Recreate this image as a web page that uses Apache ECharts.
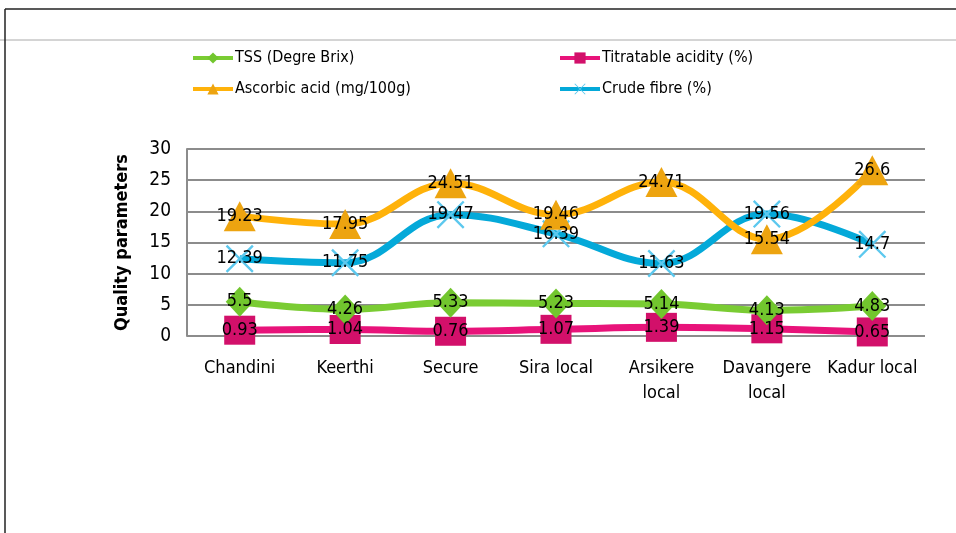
<!DOCTYPE html>
<html>
<head>
<meta charset="utf-8">
<script src="https://cdn.jsdelivr.net/npm/echarts@6/dist/echarts.min.js"></script>
<style>
  html, body { margin: 0; padding: 0; background: #fff; }
  #chart { width: 956px; height: 533px; }
</style>
</head>
<body>
<div id="chart"></div>
<script>
// categories (varieties)
const varieties = ["Chandini", "Keerthi", "Secure", "Sira local", "Arsikere\nlocal", "Davangere\nlocal", "Kadur local"];

// series values
const tss = [5.5, 4.26, 5.33, 5.23, 5.14, 4.13, 4.83];
const titratable = [0.93, 1.04, 0.76, 1.07, 1.39, 1.15, 0.65];
const ascorbic = [19.23, 17.95, 24.51, 19.46, 24.71, 15.54, 26.6];
const crude = [12.39, 11.75, 19.47, 16.39, 11.63, 19.56, 14.7];

const names = ["TSS (Degre Brix)", "Titratable acidity (%)", "Ascorbic acid (mg/100g)", "Crude fibre (%)"];

// thin "x" marker for crude fibre
const crossPath = "path://M0,0.6 L0.6,0 L10,9.4 L9.4,10 Z M9.4,0 L10,0.6 L0.6,10 L0,9.4 Z";
const txtFont = "'DejaVu Sans Condensed', 'DejaVu Sans'";

let myChart = echarts.init(document.getElementById("chart"));

function mkSeries(name, data, color, symbol, size, symColor) {
  return {
    name: name,
    type: "line",
    data: data,
    smooth: 0.4,
    symbol: symbol,
    symbolSize: size,
    lineStyle: { color: color, width: 7 },
    itemStyle: { color: symColor || color },
    label: {
      show: true,
      position: "inside",
      color: "#000",
      fontFamily: txtFont,
      fontSize: 18
    },
    z: 2
  };
}

// legend helper - one legend per item so they can sit in a 2x2 grid
function mkLegend(name, left, top) {
  return {
    data: [name],
    left: left,
    top: top,
    itemWidth: 40,
    itemHeight: 14,
    itemGap: 2,
    lineStyle: { width: 4 },
    textStyle: {
      fontFamily: "'Liberation Sans Narrow', 'DejaVu Sans Condensed'",
      fontSize: 16,
      color: "#000",
      padding: [0, 0, 0, -3]
    }
  };
}

let option = {
  animation: false,
  backgroundColor: "#fff",
  graphic: [
    { type: "line", shape: { x1: 0, y1: 40, x2: 956, y2: 40 }, style: { stroke: "#aaa", lineWidth: 1 } },
    { type: "line", shape: { x1: 5, y1: 9, x2: 956, y2: 9 }, style: { stroke: "#222", lineWidth: 1.5 } },
    { type: "line", shape: { x1: 5, y1: 9, x2: 5, y2: 533 }, style: { stroke: "#222", lineWidth: 1.5 } }
  ],
  legend: [
    mkLegend(names[0], 186, 45),
    mkLegend(names[1], 553, 45),
    mkLegend(names[2], 186, 76),
    mkLegend(names[3], 553, 76)
  ],
  grid: {
    left: 187,
    right: 31,
    top: 149,
    bottom: 197
  },
  xAxis: {
    type: "category",
    data: varieties,
    boundaryGap: true,
    axisLine: { show: false },
    axisTick: { show: false },
    axisLabel: {
      color: "#000",
      fontFamily: txtFont,
      fontSize: 18,
      lineHeight: 25,
      margin: 20,
      interval: 0
    }
  },
  yAxis: {
    type: "value",
    min: 0,
    max: 30,
    interval: 5,
    name: "Quality parameters",
    nameLocation: "middle",
    nameGap: 56,
    nameTextStyle: { color: "#000", fontFamily: txtFont, fontWeight: "bold", fontSize: 18 },
    axisLine: { show: true, lineStyle: { color: "#8c8c8c", width: 2 } },
    axisTick: { show: false },
    axisLabel: {
      color: "#000",
      fontFamily: txtFont,
      fontSize: 19,
      margin: 16
    },
    splitLine: { lineStyle: { color: "#8c8c8c", width: 2 } }
  },
  series: [
    mkSeries(names[1], titratable, "#e8137a", "rect", [31, 29], "#d2106a"),
    mkSeries(names[0], tss, "#7acc33", "diamond", [28, 30], "#72c62e"),
    mkSeries(names[3], crude, "#04a9d9", crossPath, [28, 28], "#5cc8ee"),
    mkSeries(names[2], ascorbic, "#ffb20a", "triangle", [32, 30], "#eda410")
  ]
};

myChart.setOption(option);
window.addEventListener("resize", () => {
  myChart.resize();
});
</script>
</body>
</html>
